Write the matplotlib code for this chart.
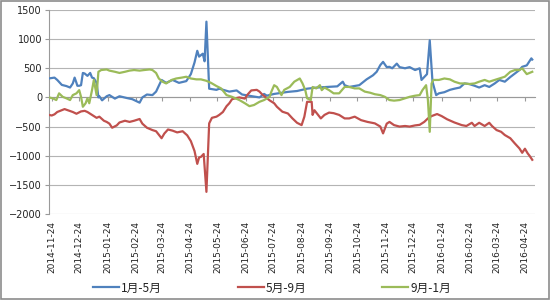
import matplotlib
matplotlib.use("Agg")
import matplotlib.pyplot as plt
import matplotlib.dates as mdates
import pandas as pd
from matplotlib.patches import Rectangle

# ---------------- data ----------------
blue_dates = ["2014-11-21","2014-11-27","2014-11-30","2014-12-05","2014-12-10","2014-12-14","2014-12-17","2014-12-19",
              "2014-12-21","2014-12-22","2014-12-24","2014-12-26","2014-12-28","2014-12-30","2015-01-02","2015-01-05",
              "2015-01-07","2015-01-09","2015-01-12","2015-01-14","2015-01-15","2015-01-18","2015-01-23","2015-01-26",
              "2015-02-01","2015-02-06","2015-02-14","2015-02-20","2015-02-28","2015-03-03","2015-03-08","2015-03-14",
              "2015-03-18","2015-03-24","2015-03-29","2015-04-05","2015-04-12","2015-04-20","2015-04-25","2015-04-29",
              "2015-05-02","2015-05-04","2015-05-08","2015-05-10","2015-05-12","2015-05-15","2015-05-23","2015-05-26",
              "2015-06-06","2015-06-14","2015-06-20","2015-07-01","2015-07-09","2015-07-14","2015-07-17","2015-07-25",
              "2015-08-09","2015-08-19","2015-08-30","2015-09-10","2015-09-21","2015-10-02","2015-10-08","2015-10-10",
              "2015-10-15","2015-10-26","2015-11-03","2015-11-10","2015-11-14","2015-11-18","2015-11-21","2015-11-25",
              "2015-11-28","2015-12-01","2015-12-06","2015-12-09","2015-12-15","2015-12-20","2015-12-26","2015-12-31",
              "2016-01-02","2016-01-08","2016-01-11","2016-01-14","2016-01-18","2016-01-21","2016-01-27","2016-02-02",
              "2016-02-07","2016-02-13","2016-02-18","2016-02-23","2016-02-29","2016-03-05","2016-03-11","2016-03-16",
              "2016-03-22","2016-03-27","2016-04-02","2016-04-08","2016-04-13","2016-04-18","2016-04-21","2016-04-26",
              "2016-05-01","2016-05-02"]
blue_vals = [326,340,300,215,195,170,240,340,
             250,200,200,210,420,410,370,420,
             340,330,250,0,20,-50,20,40,
             -20,20,-10,-30,-90,0,50,40,
             100,300,250,300,250,280,400,600,
             800,700,750,620,1300,150,130,150,
             100,120,50,20,0,60,30,60,
             95,110,150,170,180,190,270,210,
             180,210,310,380,440,555,610,520,
             525,500,580,520,500,520,470,500,
             300,400,980,270,40,70,90,130,
             150,170,240,230,200,170,210,180,
             240,300,270,350,410,470,525,550,
             670,650]

red_dates = ["2014-11-21","2014-11-24","2014-11-27","2014-11-30","2014-12-08","2014-12-17","2014-12-21","2014-12-26",
             "2014-12-30","2015-01-02","2015-01-07","2015-01-12","2015-01-15","2015-01-20","2015-01-23","2015-01-26",
             "2015-01-29","2015-02-03","2015-02-06","2015-02-12","2015-02-17","2015-02-22","2015-02-26","2015-02-28",
             "2015-03-03","2015-03-08","2015-03-14","2015-03-18","2015-03-24","2015-03-27","2015-03-31","2015-04-05",
             "2015-04-10","2015-04-16","2015-04-21","2015-04-25","2015-04-29","2015-05-02","2015-05-04","2015-05-06",
             "2015-05-09","2015-05-12","2015-05-15","2015-05-18","2015-05-23","2015-05-26","2015-05-30","2015-06-03",
             "2015-06-06","2015-06-09","2015-06-14","2015-06-17","2015-06-23","2015-06-26","2015-06-30","2015-07-06",
             "2015-07-09","2015-07-12","2015-07-16","2015-07-20","2015-07-25","2015-07-28","2015-08-03","2015-08-09",
             "2015-08-14","2015-08-19","2015-08-24","2015-08-27","2015-08-30","2015-09-04","2015-09-05","2015-09-07",
             "2015-09-10","2015-09-14","2015-09-18","2015-09-23","2015-09-28","2015-10-04","2015-10-10","2015-10-15",
             "2015-10-21","2015-10-28","2015-11-04","2015-11-12","2015-11-18","2015-11-21","2015-11-25","2015-11-28",
             "2015-12-03","2015-12-09","2015-12-15","2015-12-20","2015-12-26","2015-12-31","2016-01-05","2016-01-09",
             "2016-01-13","2016-01-19","2016-01-24","2016-01-30","2016-02-07","2016-02-15","2016-02-20","2016-02-26",
             "2016-02-29","2016-03-05","2016-03-11","2016-03-16","2016-03-19","2016-03-24","2016-03-29","2016-04-02",
             "2016-04-08","2016-04-13","2016-04-18","2016-04-21","2016-04-24","2016-04-27","2016-04-29","2016-05-02"]
red_vals = [-300,-310,-290,-250,-200,-250,-280,-240,
            -230,-250,-300,-350,-330,-400,-420,-450,
            -520,-480,-430,-400,-420,-400,-380,-370,
            -450,-520,-560,-580,-700,-620,-550,-570,
            -600,-580,-650,-750,-920,-1140,-1030,-1020,
            -970,-1620,-445,-350,-330,-300,-250,-150,
            -100,-30,-10,0,-20,50,120,130,
            100,50,0,-50,-100,-160,-245,-275,
            -360,-435,-475,-330,-75,-75,-300,-220,
            -280,-360,-300,-260,-270,-300,-360,-360,
            -330,-390,-420,-445,-500,-617,-450,-420,
            -475,-500,-490,-500,-480,-470,-420,-360,
            -320,-285,-320,-375,-430,-475,-490,-435,
            -490,-435,-490,-435,-490,-560,-590,-645,
            -700,-790,-875,-950,-880,-960,-1000,-1070]

green_dates = ["2014-11-21","2014-11-25","2014-11-29","2014-12-02","2014-12-06","2014-12-10","2014-12-14","2014-12-17",
               "2014-12-21","2014-12-24","2014-12-26","2014-12-28","2014-12-31","2015-01-02","2015-01-04","2015-01-07",
               "2015-01-09","2015-01-12","2015-01-14","2015-01-17","2015-01-23","2015-01-26","2015-02-01","2015-02-06",
               "2015-02-12","2015-02-17","2015-02-22","2015-02-28","2015-03-05","2015-03-11","2015-03-14","2015-03-18",
               "2015-03-21","2015-03-25","2015-03-29","2015-04-04","2015-04-09","2015-04-15","2015-04-20","2015-04-25",
               "2015-05-01","2015-05-06","2015-05-12","2015-05-17","2015-05-23","2015-05-28","2015-06-03","2015-06-09",
               "2015-06-17","2015-06-23","2015-06-28","2015-07-03","2015-07-09","2015-07-14","2015-07-20","2015-07-22",
               "2015-07-25","2015-07-28","2015-08-02","2015-08-05","2015-08-11","2015-08-16","2015-08-22","2015-08-25",
               "2015-08-28","2015-08-30","2015-09-03","2015-09-05","2015-09-09","2015-09-13","2015-09-15","2015-09-18",
               "2015-09-23","2015-09-28","2015-10-04","2015-10-10","2015-10-15","2015-10-21","2015-10-26","2015-11-01",
               "2015-11-07","2015-11-12","2015-11-18","2015-11-23","2015-11-28","2015-12-03","2015-12-09","2015-12-15",
               "2015-12-20","2015-12-26","2015-12-31","2016-01-03","2016-01-07","2016-01-09","2016-01-11","2016-01-13",
               "2016-01-15","2016-01-21","2016-01-27","2016-02-02","2016-02-07","2016-02-13","2016-02-18","2016-02-23",
               "2016-02-29","2016-03-05","2016-03-11","2016-03-16","2016-03-22","2016-03-27","2016-04-02","2016-04-08",
               "2016-04-13","2016-04-18","2016-04-21","2016-04-26","2016-04-29","2016-05-02"]
green_vals = [0,-15,-45,70,10,-15,-45,40,
              70,125,10,-160,-100,-15,-100,125,
              300,40,440,470,480,460,440,420,
              440,460,470,460,470,480,470,420,
              325,270,240,300,325,340,355,325,
              310,310,285,250,195,155,40,10,
              -45,-100,-150,-130,-75,-45,10,100,
              210,180,40,130,180,270,325,240,
              125,-15,-45,180,155,210,125,170,
              125,70,70,180,180,155,155,100,
              80,55,40,10,-45,-55,-45,-15,
              10,30,40,125,210,-45,-590,240,
              300,300,325,310,270,240,240,230,
              240,270,300,270,300,325,355,440,
              470,470,500,400,420,440]

series_names = ["1月-5月", "5月-9月", "9月-1月"]
series_colors = ["#4F81BD", "#C0504D", "#9BBB59"]

y_ticks = [1500, 1000, 500, 0, -500, -1000, -1500, -2000]
x_tick_labels = ["2014-11-24","2014-12-24","2015-01-24","2015-02-24","2015-03-24","2015-04-24",
                 "2015-05-24","2015-06-24","2015-07-24","2015-08-24","2015-09-24","2015-10-24",
                 "2015-11-24","2015-12-24","2016-01-24","2016-02-24","2016-03-24","2016-04-24"]

# ---------------- plot ----------------
plt.rcParams['font.family'] = ['DejaVu Sans']
fig = plt.figure(figsize=(5.5, 3.0), dpi=100)
fig.patch.set_facecolor("white")
ax = fig.add_axes([49/550, 1-214/300, (535-49)/550, (214-10)/300])

all_dates = [blue_dates, red_dates, green_dates]
all_vals = [blue_vals, red_vals, green_vals]
for d, v, name, c in zip(all_dates, all_vals, series_names, series_colors):
    ax.plot(pd.to_datetime(d), v, color=c, lw=1.6, label=name, zorder=3,
            solid_joinstyle="round")

ax.set_ylim(-2000, 1500)
ax.set_yticks(y_ticks)
ax.set_xlim(pd.Timestamp("2014-11-21"), pd.Timestamp("2016-05-05"))
ax.grid(axis="y", color="#B4B4B4", lw=0.8, zorder=0)
ax.set_axisbelow(True)

for s in ["top", "right"]:
    ax.spines[s].set_visible(False)
ax.spines["left"].set_color("#9A9A9A")
ax.spines["bottom"].set_color("#9A9A9A")
ax.spines["bottom"].set_position(("data", 0))

xt = pd.to_datetime(x_tick_labels)
ax.set_xticks(xt)
ax.tick_params(axis="x", direction="out", length=3, color="#9A9A9A", labelbottom=False)
ax.tick_params(axis="y", direction="out", length=3, color="#9A9A9A", labelsize=7,
               labelcolor="#222222", pad=2)

sec = ax.secondary_xaxis("bottom")
sec.set_xticks(xt)
sec.set_xticklabels(x_tick_labels, rotation=90, fontsize=6.5, color="#222222")
sec.tick_params(length=0, pad=5)
sec.spines["bottom"].set_visible(False)

leg = fig.legend(loc="center", bbox_to_anchor=(0.495, 1-288/300), ncol=3, frameon=False,
                 prop={"family": ["Noto Sans CJK SC", "DejaVu Sans"], "size": 8.5},
                 handlelength=2.2, handletextpad=0.2, columnspacing=6.4)
for t in leg.get_texts():
    t.set_color("#222222")

fig.patches.append(Rectangle((0.001, 0.002), 0.997, 0.995, transform=fig.transFigure,
                             fill=False, edgecolor="#8C8C8C", lw=1.2))

fig.savefig("out.png", dpi=100, facecolor="white")
